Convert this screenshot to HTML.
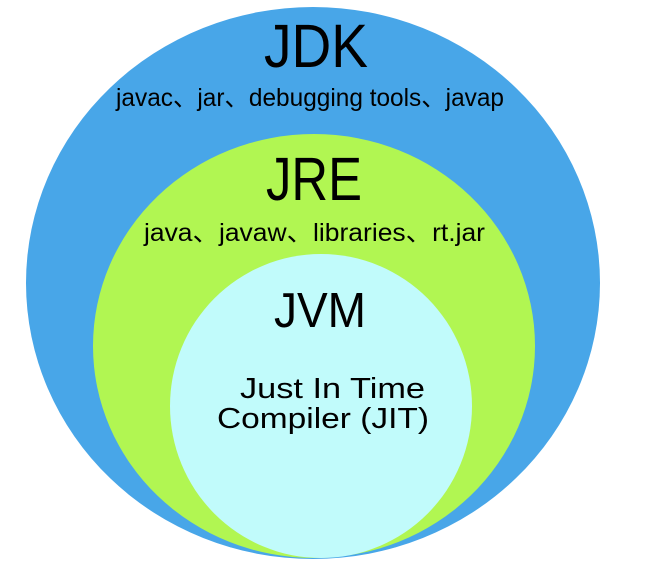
<!DOCTYPE html>
<html><head><meta charset="utf-8"><style>html,body{margin:0;padding:0;background:#fff}svg{display:block}</style></head>
<body>
<svg width="653" height="567" viewBox="0 0 653 567" xmlns="http://www.w3.org/2000/svg" font-family="'Liberation Sans','Noto Sans CJK SC',sans-serif" fill="#000">
<ellipse cx="313" cy="283" rx="287" ry="276" fill="#48a6e8"/>
<ellipse cx="314" cy="346" rx="221" ry="212" fill="#b1f652"/>
<ellipse cx="321" cy="406" rx="151" ry="152" fill="#c1fbfb"/>
<text x="264" y="67" font-size="61" textLength="104" lengthAdjust="spacingAndGlyphs">JDK</text>
<text x="116" y="106" font-size="25" textLength="388" lengthAdjust="spacingAndGlyphs">javac、jar、debugging tools、javap</text>
<text x="266" y="200" font-size="61" textLength="96" lengthAdjust="spacingAndGlyphs">JRE</text>
<text x="144" y="241" font-size="25" textLength="341" lengthAdjust="spacingAndGlyphs">java、javaw、libraries、rt.jar</text>
<text x="274" y="327" font-size="49" textLength="92" lengthAdjust="spacingAndGlyphs">JVM</text>
<text x="240" y="398" font-size="29" textLength="185" lengthAdjust="spacingAndGlyphs">Just In Time</text>
<text x="217" y="428" font-size="29" textLength="212" lengthAdjust="spacingAndGlyphs">Compiler (JIT)</text>
</svg>
</body></html>
